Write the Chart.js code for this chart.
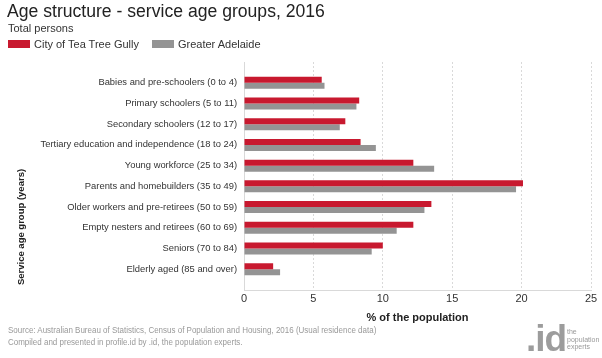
<!DOCTYPE html>
<html>
<head>
<meta charset="utf-8">
<script src="https://cdn.jsdelivr.net/npm/chart.js@4/dist/chart.umd.min.js"></script>
<style>
    body { margin: 0; background: #fff; font-family: "Liberation Sans", Arial, sans-serif; }
    #wrap { position: relative; width: 602px; height: 358px; overflow: hidden; }
    #chart { position: absolute; left: 0; top: 0; }
    .title { position: absolute; left: 7px; top: 1px; font-size: 17.6px; color: #222; white-space: nowrap; }
    .subtitle { position: absolute; left: 8px; top: 22px; font-size: 11px; color: #333; }
    #legend { position: absolute; left: 8px; top: 38px; font-size: 11px; color: #333; display: flex; }
    #legend span.item { display: flex; align-items: center; margin-right: 13px; }
    #legend span.box { display: inline-block; width: 22px; height: 8px; margin-right: 4px; }
    .source { position: absolute; left: 8px; top: 324px; font-size: 8.6px; color: #999; line-height: 12px; white-space: nowrap; transform: scaleX(0.93); transform-origin: left top; }
    .logo { position: absolute; left: 526px; top: 320px; font-size: 37px; line-height: 37px; font-weight: bold; color: #9c9c9c; letter-spacing: -1px; }
    .logo-text { position: absolute; left: 567px; top: 328px; font-size: 7px; color: #999; line-height: 7.5px; }
</style>
</head>
<body>
<div id="wrap">
    <canvas id="chart" width="602" height="358"></canvas>
    <div class="title">Age structure - service age groups, 2016</div>
    <div class="subtitle">Total persons</div>
    <div id="legend"></div>
    <div class="source">Source: Australian Bureau of Statistics, Census of Population and Housing, 2016 (Usual residence data)<br>Compiled and presented in profile.id by .id, the population experts.</div>
    <div class="logo">.id</div>
    <div class="logo-text">the<br>population<br>experts</div>
</div>
<script>
const categories = [
    'Babies and pre-schoolers (0 to 4)',
    'Primary schoolers (5 to 11)',
    'Secondary schoolers (12 to 17)',
    'Tertiary education and independence (18 to 24)',
    'Young workforce (25 to 34)',
    'Parents and homebuilders (35 to 49)',
    'Older workers and pre-retirees (50 to 59)',
    'Empty nesters and retirees (60 to 69)',
    'Seniors (70 to 84)',
    'Elderly aged (85 and over)'
];
const teaTreeGully = [5.6, 8.3, 7.3, 8.4, 12.2, 20.1, 13.5, 12.2, 10.0, 2.1];
const greaterAdelaide = [5.8, 8.1, 6.9, 9.5, 13.7, 19.6, 13.0, 11.0, 9.2, 2.6];
const xTicks = [0, 5, 10, 15, 20, 25];

const seriesNames = ['City of Tea Tree Gully', 'Greater Adelaide'];
const seriesColors = ['#c8192f', '#949494'];

// legend
const legend = document.getElementById('legend');
seriesNames.forEach((name, i) => {
    const item = document.createElement('span');
    item.className = 'item';
    item.innerHTML = '<span class="box" style="background:' + seriesColors[i] + '"></span>' + name;
    legend.appendChild(item);
});

// empty slot above and below so the bars sit in from the grid ends
const labels = [''].concat(categories, ['']);
const pad = arr => [null].concat(arr, [null]);

const yTitle = {
    id: 'yTitle',
    afterDraw(chart) {
        const ctx = chart.ctx;
        ctx.save();
        ctx.translate(21, 227);
        ctx.rotate(-Math.PI / 2);
        ctx.font = 'bold 9.5px "Liberation Sans", Arial, sans-serif';
        ctx.fillStyle = '#222';
        ctx.textAlign = 'center';
        ctx.textBaseline = 'middle';
        ctx.fillText('Service age group (years)', 0, 0);
        ctx.restore();
    }
};

new Chart(document.getElementById('chart'), {
    type: 'bar',
    data: {
        labels: labels,
        datasets: [{
            label: seriesNames[0],
            data: pad(teaTreeGully),
            backgroundColor: seriesColors[0]
        }, {
            label: seriesNames[1],
            data: pad(greaterAdelaide),
            backgroundColor: seriesColors[1]
        }]
    },
    options: {
        indexAxis: 'y',
        responsive: false,
        animation: false,
        layout: {
            padding: {top: 62, right: 11, left: 0, bottom: 0}
        },
        datasets: {
            bar: {
                categoryPercentage: 0.58,
                barPercentage: 1
            }
        },
        plugins: {
            legend: {display: false},
            tooltip: {enabled: false}
        },
        scales: {
            x: {
                min: 0,
                max: 25,
                afterBuildTicks: scale => {
                    scale.ticks = xTicks.map(v => ({value: v}));
                },
                afterFit: scale => {
                    scale.height = 68;
                },
                grid: {
                    color: '#d9d9d9',
                    drawTicks: false
                },
                border: {
                    color: '#d9d9d9',
                    dash: [2, 2]
                },
                ticks: {
                    padding: 2,
                    color: '#333',
                    font: {family: '"Liberation Sans", Arial, sans-serif', size: 11}
                },
                title: {
                    display: true,
                    text: '% of the population',
                    color: '#222',
                    font: {family: '"Liberation Sans", Arial, sans-serif', size: 11, weight: 'bold'},
                    padding: {top: 0, bottom: 33}
                }
            },
            y: {
                offset: false,
                afterFit: scale => {
                    scale.width = 244;
                },
                grid: {
                    display: false,
                    drawTicks: false
                },
                border: {
                    color: '#d9d9d9'
                },
                ticks: {
                    padding: 7,
                    autoSkip: false,
                    color: '#333',
                    font: {family: '"Liberation Sans", Arial, sans-serif', size: 9.4}
                }
            }
        }
    },
    plugins: [yTitle]
});
</script>
</body>
</html>
